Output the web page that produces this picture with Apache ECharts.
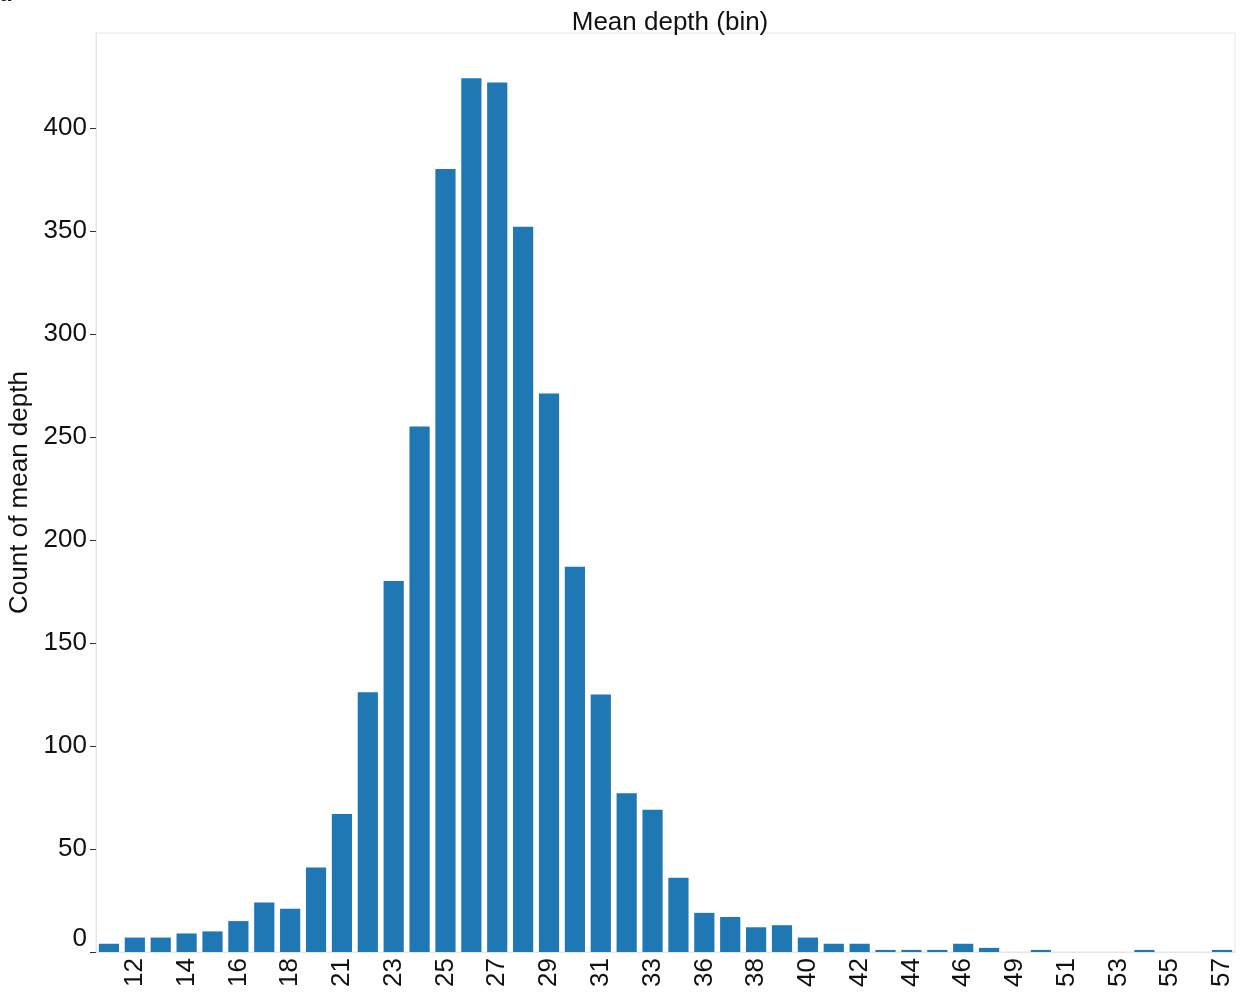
<!DOCTYPE html>
<html>
<head>
<meta charset="utf-8">
<script src="https://cdn.jsdelivr.net/npm/echarts@6/dist/echarts.min.js"></script>
<style>
  html, body { margin: 0; padding: 0; background: #fff; }
  #chart { width: 1241px; height: 995px; }
</style>
</head>
<body>
<div id="chart"></div>
<script>
// Mean-depth bins (labels rounded) and the number of samples in each bin
const depthBins = [
  '11', '12', '13', '14', '15', '16', '17', '18', '20', '21', '22',
  '23', '24', '25', '26', '27', '28', '29', '30', '31', '32', '33',
  '35', '36', '37', '38', '39', '40', '41', '42', '43', '44', '45',
  '46', '47', '49', '50', '51', '52', '53', '54', '55', '56', '57'
];
const binCounts = [
  4, 7, 7, 9, 10, 15, 24, 21, 41, 67, 126,
  180, 255, 380, 424, 422, 352, 271, 187, 125, 77, 69,
  36, 19, 17, 12, 13, 7, 4, 4, 1, 1, 1,
  4, 2, 0, 1, 0, 0, 0, 1, 0, 0, 1
];
const countTicks = [0, 50, 100, 150, 200, 250, 300, 350, 400];

const FONT = '"Liberation Sans", Arial, Helvetica, sans-serif';
const FS = 26;
const chart = echarts.init(document.getElementById('chart'), null, { renderer: 'canvas' });

chart.setOption({
  animation: false,
  backgroundColor: '#ffffff',
  title: {
    text: 'Mean depth (bin)',
    left: 665,
    textAlign: 'center',
    top: 5,
    textStyle: { fontFamily: FONT, fontSize: FS, fontWeight: 'normal', color: '#111' }
  },
  graphic: [{
    type: 'text',
    left: 0,
    top: -15,
    style: { text: 'a', font: 'bold 20px ' + FONT, fill: '#000' }
  }],
  grid: {
    left: 96, right: 6, top: 33, bottom: 43,
    containLabel: false,
    outerBoundsMode: 'none',
    show: true,
    borderColor: '#e6e6e6',
    borderWidth: 1
  },
  xAxis: {
    type: 'category',
    data: depthBins,
    axisLine: { show: true, lineStyle: { color: '#e6e6e6', width: 1 } },
    axisTick: { show: false },
    axisLabel: {
      interval: function (idx) { return idx % 2 === 1; },
      rotate: 90,
      margin: 6,
      fontFamily: FONT,
      fontSize: FS,
      color: '#111'
    },
    splitLine: { show: false }
  },
  yAxis: {
    type: 'value',
    min: countTicks[0],
    max: 446,
    interval: countTicks[1] - countTicks[0],
    name: 'Count of mean depth',
    nameLocation: 'middle',
    nameGap: 60,
    nameTextStyle: { fontFamily: FONT, fontSize: FS, color: '#111' },
    axisLine: { show: true, lineStyle: { color: '#e6e6e6', width: 1 } },
    axisTick: { show: true, length: 6, lineStyle: { color: '#333', width: 1 } },
    axisLabel: {
      margin: 9,
      fontFamily: FONT,
      fontSize: FS,
      color: '#111',
      showMaxLabel: false,
      formatter: function (v) {
        if (countTicks.indexOf(v) < 0) return '';
        return v === 0 ? '{zero|0}' : String(v);
      },
      rich: {
        zero: { fontFamily: FONT, fontSize: FS, color: '#111', padding: [0, 0, 26, 0] }
      }
    },
    splitLine: { show: false }
  },
  series: [{
    type: 'bar',
    data: binCounts,
    barCategoryGap: '22%',
    itemStyle: { color: '#1f77b4' }
  }]
});
</script>
</body>
</html>
